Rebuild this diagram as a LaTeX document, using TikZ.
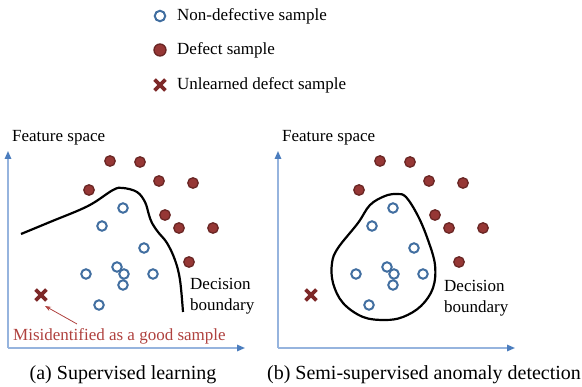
\documentclass[tikz,border=0pt]{standalone}
\usepackage{fontspec}
\setmainfont{Liberation Serif}
\usetikzlibrary{arrows.meta,shapes.misc}

\definecolor{goodblue}{RGB}{65,110,160}
\definecolor{defectred}{RGB}{150,55,53}
\definecolor{defectedge}{RGB}{105,38,36}
\definecolor{crossred}{RGB}{125,40,40}
\definecolor{axisblue}{RGB}{150,180,222}
\definecolor{axistip}{RGB}{75,125,190}
\definecolor{mislabel}{RGB}{175,65,62}

\begin{document}
\begin{tikzpicture}[x=1pt, y=-1pt, font=\fontsize{17}{21}\selectfont,
    good/.style={circle, draw=goodblue, line width=2pt, minimum size=9.5pt, inner sep=0pt},
    defect/.style={circle, draw=defectedge, fill=defectred, line width=1.3pt, minimum size=10.5pt, inner sep=0pt},
    unlearned/.style={cross out, draw=crossred, line width=3.8pt, minimum size=7pt, inner sep=0pt},
    axis/.style={draw=axisblue, line width=1.5pt, -{Triangle[length=8pt,width=6.5pt,color=axistip]}},
    boundary/.style={black, line width=2.2pt},
    label/.style={anchor=west, inner sep=0pt},
    caption/.style={font=\fontsize{20}{24}\selectfont}]
  \useasboundingbox (0,0) rectangle (582,387);

  % Sample positions (same in both panels)
  \def\defectlist{110/161, 140/162, 159/181, 193/183, 89/190, 165/215, 179/228, 213/228, 189/262}
  \def\goodlist{123/208, 102/226, 144/248, 86/274, 117/267, 124/274, 123/285, 153/274, 99/305}

  % Legend
  \node[good, minimum size=10.5pt] (key-good) at (160,16) {};
  \node[label] (key-good-text) at (177,16) {Non-defective sample};
  \node[defect, minimum size=12pt] (key-defect) at (160,50) {};
  \node[label] (key-defect-text) at (177,50) {Defect sample};
  \node[unlearned] (key-unl) at (160,85) {};
  \node[label] (key-unl-text) at (177,85) {Unlearned defect sample};

  % Axes, samples and titles of both panels
  \foreach \p/\dx in {a/0, b/270} {
    \coordinate (\p-origin) at (8+\dx,348);
    \coordinate (\p-ytip) at (8+\dx,151);
    \coordinate (\p-xtip) at (245+\dx,348);
    \draw[axis] (\p-origin) -- (\p-ytip);
    \draw[axis] (\p-origin) -- (\p-xtip);
    \node[label] (\p-space) at (12+\dx,138) {Feature space};

    \foreach \x/\y [count=\i] in \defectlist {
      \node[defect] (\p-defect-\i) at (\x+\dx,\y) {};
    }
    \foreach \x/\y [count=\i] in \goodlist {
      \node[good] (\p-good-\i) at (\x+\dx,\y) {};
    }
    \node[unlearned] (\p-unl) at (41+\dx,295) {};
  }

  % Decision boundaries
  \draw[boundary] plot[smooth, tension=0.6] coordinates {
    (21,234) (50,222) (88,206) (113,190) (123,188) (137,192) (145,202)
    (149,215) (152,223) (158,232) (167,243) (175,260) (180,280) (183,312)};
  \draw[boundary] plot[smooth cycle, tension=0.6] coordinates {
    (385,196) (397,194) (406,197) (418,216) (428,240) (435,265) (433,288)
    (421,306) (403,317) (385,320) (363,317) (343,303) (333,283) (332,263)
    (338,248) (358,223) (370,205)};
  \node[label, align=left] (a-bound) at (190,296.5) {Decision\\boundary};
  \node[label, align=left] (b-bound) at (444,298.5) {Decision\\boundary};

  % Wrongly accepted defect
  \node[label, text=mislabel] (mis) at (13,336) {Misidentified as a good sample};
  \draw[mislabel, line width=0.8pt, -{Stealth[length=6pt,width=4.5pt]}]
    ([xshift=64pt,yshift=4pt]mis.north west) -- ([xshift=4pt,yshift=-11pt]a-unl.center);

  % Captions
  \node[caption] (cap-a) at (123,375) {(a) Supervised learning};
  \node[caption] (cap-b) at (424,375) {(b) Semi-supervised anomaly detection};
\end{tikzpicture}
\end{document}
